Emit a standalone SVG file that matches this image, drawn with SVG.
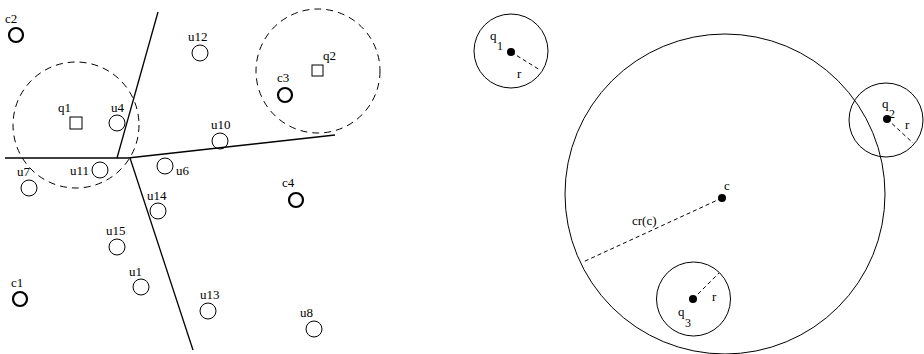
<svg xmlns="http://www.w3.org/2000/svg" width="924" height="354" viewBox="0 0 924 354">
<style>
text{font-family:"Liberation Serif","Times New Roman",serif;font-size:13px;fill:#000}
.u{fill:none;stroke:#000;stroke-width:1}
.c{fill:none;stroke:#000;stroke-width:2.2}
.dc{fill:none;stroke:#000;stroke-width:1;stroke-dasharray:7,5}
.ln{fill:none;stroke:#000;stroke-width:1.3}
.dl{fill:none;stroke:#000;stroke-width:1;stroke-dasharray:4,3}
.sq{fill:none;stroke:#000;stroke-width:1}
.sub{font-size:12px}
</style>
<rect width="924" height="354" fill="#fff"/>
<g id="connectors">
<path class="ln" d="M5,158 H128"/>
<path class="ln" d="M158,12 L117,158"/>
<path class="ln" d="M128,158 L335,135"/>
<path class="ln" d="M130,158 L193,350"/>
<path class="dl" d="M511,52 L540,70"/>
<path class="dl" d="M722,198 L583,262"/>
<path class="dl" d="M887,119 L913,143"/>
<path class="dl" d="M693,299 L719,273"/>
</g>
<g id="range-q1"><circle class="dc" cx="76" cy="125" r="63"/></g>
<g id="range-q2"><circle class="dc" cx="318" cy="71" r="62"/></g>
<g id="q1"><rect class="sq" x="70" y="117" width="12" height="12"/><text x="58" y="112">q1</text></g>
<g id="q2"><rect class="sq" x="312" y="65" width="11" height="11"/><text x="323" y="60">q2</text></g>
<g id="c1"><circle class="c" cx="20" cy="299" r="7"/><text x="11" y="287">c1</text></g>
<g id="c2"><circle class="c" cx="16" cy="35" r="7"/><text x="5" y="23">c2</text></g>
<g id="c3"><circle class="c" cx="285" cy="95" r="7"/><text x="277" y="82">c3</text></g>
<g id="c4"><circle class="c" cx="296" cy="200" r="7"/><text x="282" y="187">c4</text></g>
<g id="u1"><circle class="u" cx="141" cy="287" r="8"/><text x="129" y="276">u1</text></g>
<g id="u4"><circle class="u" cx="117" cy="123" r="8"/><text x="111" y="112">u4</text></g>
<g id="u6"><circle class="u" cx="165" cy="166" r="8"/><text x="176" y="175">u6</text></g>
<g id="u7"><circle class="u" cx="29" cy="188" r="8"/><text x="17" y="176">u7</text></g>
<g id="u8"><circle class="u" cx="314" cy="329" r="8"/><text x="300" y="317">u8</text></g>
<g id="u10"><circle class="u" cx="220" cy="141" r="8"/><text x="211" y="129">u10</text></g>
<g id="u11"><circle class="u" cx="100" cy="170" r="8"/><text x="70" y="175">u11</text></g>
<g id="u12"><circle class="u" cx="200" cy="53" r="8"/><text x="188" y="41">u12</text></g>
<g id="u13"><circle class="u" cx="208" cy="311" r="8"/><text x="200" y="299">u13</text></g>
<g id="u14"><circle class="u" cx="158" cy="211" r="8"/><text x="147" y="200">u14</text></g>
<g id="u15"><circle class="u" cx="117" cy="247" r="8"/><text x="106" y="235">u15</text></g>
<g id="rq1"><circle class="u" cx="511" cy="51" r="37"/><circle cx="511" cy="52" r="4"/><text x="490" y="40">q</text><text class="sub" x="497" y="50">1</text><text x="517" y="78">r</text></g>
<g id="rc"><circle class="u" cx="725" cy="194" r="160"/><circle cx="722" cy="198" r="4"/><text x="724" y="190">c</text><text x="632" y="225">cr(c)</text></g>
<g id="rq2"><circle class="u" cx="886" cy="120" r="37"/><circle cx="887" cy="119" r="4"/><text x="882" y="108">q</text><text class="sub" x="889" y="118">2</text><text x="905" y="129">r</text></g>
<g id="rq3"><circle class="u" cx="693.5" cy="299" r="37"/><circle cx="693" cy="299" r="4"/><text x="678" y="316">q</text><text class="sub" x="685" y="327">3</text><text x="712" y="301">r</text></g>
</svg>
